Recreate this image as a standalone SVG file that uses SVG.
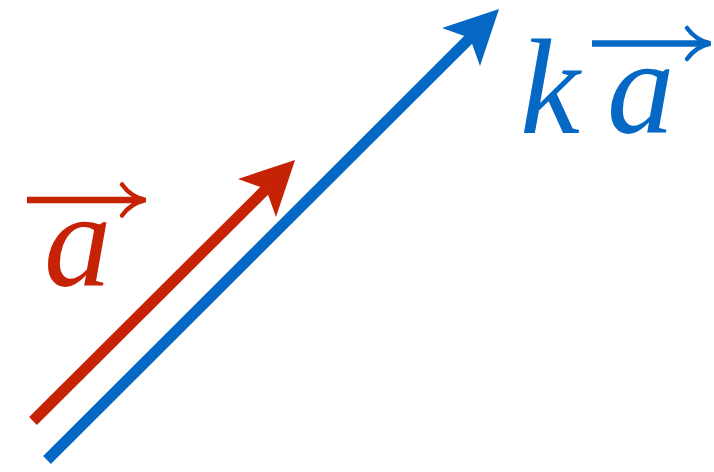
<svg xmlns="http://www.w3.org/2000/svg" width="714" height="472" viewBox="0 0 714 472">
  <style>
    .lbl { font-family: "Liberation Serif", "Times New Roman", serif; font-style: italic; font-size: 135px; }
    .red { fill: #C62306; }
    .blue { fill: #0468C4; }
    .vshaft { fill: none; stroke-width: 6.5; }
    .vhook { fill: none; stroke-width: 4.5; stroke-linecap: round; }
    .rs { stroke: #C62306; }
    .bs { stroke: #0468C4; }
    .vec { fill: none; stroke-width: 11; stroke-linecap: butt; }
  </style>
  <defs>
    <marker id="headRed" markerUnits="userSpaceOnUse" orient="auto" refX="0" refY="0" markerWidth="60" markerHeight="60" viewBox="-15 -30 60 60" overflow="visible">
      <path d="M0,0 L-12.7,-26.9 L41,0 L-12.7,26.9 Z" fill="#C62306"/>
    </marker>
    <marker id="headBlue" markerUnits="userSpaceOnUse" orient="auto" refX="0" refY="0" markerWidth="60" markerHeight="60" viewBox="-15 -30 60 60" overflow="visible">
      <path d="M0,0 L-12.7,-26.9 L41,0 L-12.7,26.9 Z" fill="#0468C4"/>
    </marker>
  </defs>
  <g id="connectors">
    <line class="vec rs" x1="33" y1="421" x2="266" y2="189" marker-end="url(#headRed)"/>
    <line class="vec bs" x1="47" y1="460" x2="470" y2="38" marker-end="url(#headBlue)"/>
  </g>
  <g id="label-a">
    <path class="vshaft rs" d="M27,200 H143"/>
    <path class="vhook rs" d="M122,184.5 Q131,197 145.5,200 Q131,203 122,215.5"/>
    <text class="lbl red" x="44" y="286">a</text>
  </g>
  <g id="label-ka">
    <text class="lbl blue" x="520" y="133">k</text>
    <path class="vshaft bs" d="M592,43.5 H708"/>
    <path class="vhook bs" d="M687,28 Q696,40.5 710.5,43.5 Q696,46.5 687,59"/>
    <text class="lbl blue" x="607" y="133">a</text>
  </g>
</svg>
